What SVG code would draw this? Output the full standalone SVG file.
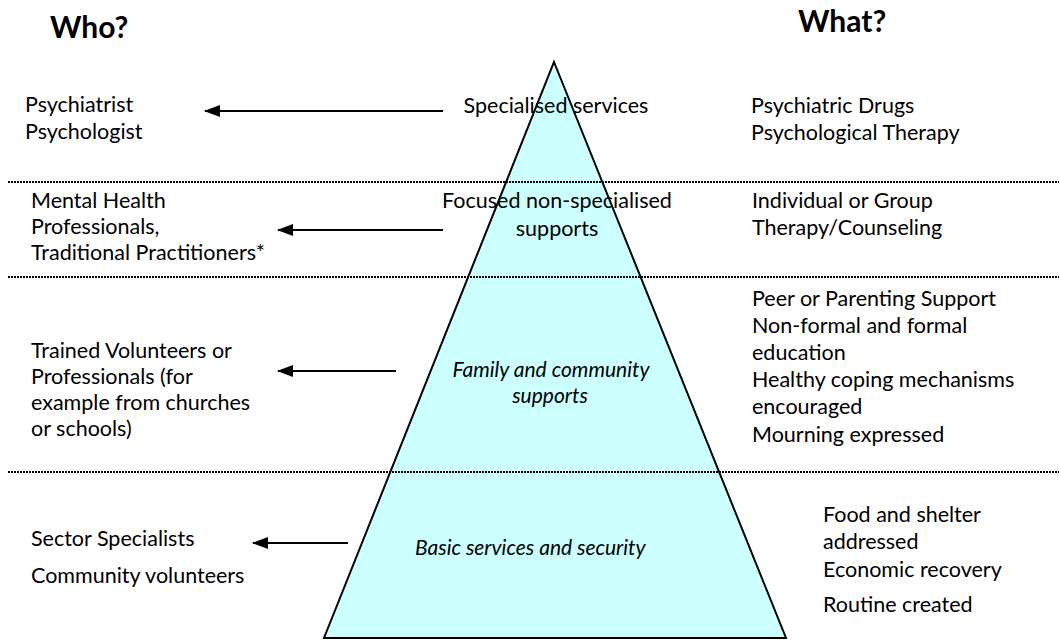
<svg xmlns="http://www.w3.org/2000/svg" width="1059" height="640" viewBox="0 0 1059 640">
<defs>
<marker id="ah" markerUnits="userSpaceOnUse" markerWidth="16" markerHeight="12" refX="15" refY="6" orient="auto">
<path d="M0,0 L16,6 L0,12 z" fill="#000"/>
</marker>
<style>
text{font-family:Lato,"Open Sans","Liberation Sans",sans-serif;font-size:21.5px;fill:#000}
.h{font-weight:bold;font-size:30px}
.it{font-style:italic;font-size:21px}
.c{text-anchor:middle}
.dot{stroke:#000;stroke-width:2;stroke-dasharray:2 1;fill:none}
.arr{stroke:#000;stroke-width:2;fill:none;marker-end:url(#ah)}
</style>
</defs>
<rect width="1059" height="640" fill="#fff"/>
<g id="pyramid">
<polygon points="554,62 786,638 324,638" fill="#CCFFFF" stroke="#000" stroke-width="2"/>
</g>
<g id="separators">
<line class="dot" x1="8" y1="182" x2="1059" y2="182"/>
<line class="dot" x1="8" y1="277" x2="1059" y2="277"/>
<line class="dot" x1="8" y1="472" x2="1059" y2="472"/>
</g>
<g id="headers">
<text class="h" x="50" y="38">Who?</text>
<text class="h" x="798" y="32">What?</text>
</g>
<g id="level1">
<text class="c" x="556" y="113">Specialised services</text>
<text x="25" y="112">Psychiatrist</text>
<text x="25" y="139">Psychologist</text>
<text x="751" y="113">Psychiatric Drugs</text>
<text x="751" y="140">Psychological Therapy</text>
</g>
<g id="level2">
<text class="c" x="557" y="208">Focused non-specialised</text>
<text class="c" x="557" y="236">supports</text>
<text x="31" y="208">Mental Health</text>
<text x="31" y="234">Professionals,</text>
<text x="31" y="260">Traditional Practitioners*</text>
<text x="752" y="208">Individual or Group</text>
<text x="752" y="235">Therapy/Counseling</text>
</g>
<g id="level3">
<text class="c it" x="551" y="377">Family and community</text>
<text class="c it" x="550" y="403">supports</text>
<text x="31" y="358">Trained Volunteers or</text>
<text x="31" y="384">Professionals (for</text>
<text x="31" y="410">example from churches</text>
<text x="31" y="436">or schools)</text>
<text x="752" y="306">Peer or Parenting Support</text>
<text x="752" y="333">Non-formal and formal</text>
<text x="752" y="360">education</text>
<text x="752" y="387">Healthy coping mechanisms</text>
<text x="752" y="414">encouraged</text>
<text x="752" y="442">Mourning expressed</text>
</g>
<g id="level4">
<text class="it" x="415" y="555">Basic services and security</text>
<text x="31" y="546">Sector Specialists</text>
<text x="31" y="583">Community volunteers</text>
<text x="823" y="522">Food and shelter</text>
<text x="823" y="549">addressed</text>
<text x="823" y="577">Economic recovery</text>
<text x="823" y="612">Routine created</text>
</g>
<g id="connectors">
<line class="arr" x1="443" y1="111" x2="205" y2="111"/>
<line class="arr" x1="443" y1="230" x2="278" y2="230"/>
<line class="arr" x1="396" y1="371" x2="278" y2="371"/>
<line class="arr" x1="348" y1="543" x2="253" y2="543"/>
</g>
</svg>
